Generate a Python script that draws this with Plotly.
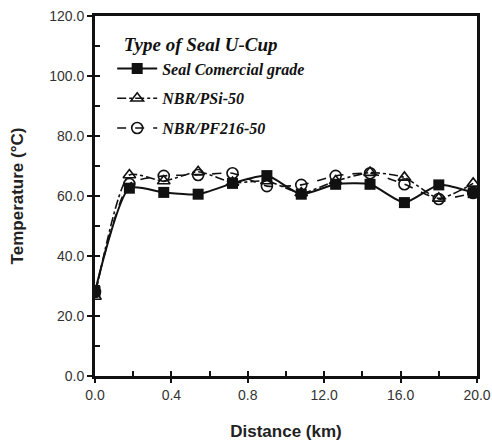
import plotly.graph_objects as go

# Distance along the test run (km)
distance_km = [0.0, 1.8, 3.6, 5.4, 7.2, 9.0, 10.8, 12.6, 14.4, 16.2, 18.0, 19.8]

# Seal temperature (°C) for each U-cup type
temp_commercial = [28.1, 62.6, 61.2, 60.6, 64.2, 66.8, 60.6, 63.9, 63.9, 57.8, 63.7, 61.1]
temp_psi50 = [26.5, 67.0, 65.0, 68.1, 64.5, 65.0, 61.0, 65.0, 67.8, 66.2, 59.2, 64.2]
temp_pf216 = [28.0, 64.0, 66.7, 67.0, 67.6, 63.3, 63.7, 66.7, 67.6, 63.9, 59.0, 61.0]

series_names = ["Seal Comercial grade", "NBR/PSi-50", "NBR/PF216-50"]

x_tickvals = [0, 4, 8, 12, 16, 20]
x_ticktext = ["0.0", "0.4", "0.8", "12.0", "16.0", "20.0"]
y_tickvals = [0, 20, 40, 60, 80, 100, 120]
y_ticktext = ["0.0", "20.0", "40.0", "60.0", "80.0", "100.0", "120.0"]

INK = "#111111"
fig = go.Figure()

fig.add_trace(go.Scatter(
    x=distance_km, y=temp_commercial, name=series_names[0], legendgroup="a",
    mode="lines+markers", line=dict(color=INK, width=2, shape="spline", smoothing=0.6),
    marker=dict(symbol="square", size=11, color=INK),
))
fig.add_trace(go.Scatter(
    x=distance_km, y=temp_psi50, name=series_names[1], legendgroup="b",
    mode="lines+markers",
    line=dict(color=INK, width=1.6, shape="spline", smoothing=0.6, dash="dashdot"),
    marker=dict(symbol="triangle-up-open", size=11, color=INK, line=dict(width=1.6)),
))
fig.add_trace(go.Scatter(
    x=distance_km, y=temp_pf216, name=series_names[2], legendgroup="c",
    mode="lines+markers",
    line=dict(color=INK, width=1.6, shape="spline", smoothing=0.6, dash="dash"),
    marker=dict(symbol="circle-open", size=11, color=INK, line=dict(width=1.6)),
))
# empty trace on the overlay axes that carry the inward tick marks
fig.add_trace(go.Scatter(x=[], y=[], xaxis="x2", yaxis="y2", showlegend=False, hoverinfo="skip"))

sans = "Liberation Sans, Arial, sans-serif"
serif = "Liberation Serif, Times New Roman, serif"
axis_font = dict(family=sans, size=14, color="#333333")
title_font = dict(family=sans, size=17, color="#222222")

fig.update_layout(
    width=492, height=444,
    margin=dict(l=95, r=15, t=16, b=68),
    paper_bgcolor="white", plot_bgcolor="white",
    font=axis_font,
    legend=dict(
        x=0.045, y=0.97, xanchor="left", yanchor="top",
        bgcolor="rgba(0,0,0,0)",
        font=dict(family=serif, size=16, color=INK, weight="bold", style="italic"),
        title=dict(text="  Type of Seal U-Cup",
                   font=dict(family=serif, size=19, color=INK, weight="bold", style="italic")),
        tracegroupgap=6,
        itemwidth=40,
    ),
    xaxis=dict(
        range=[0, 20], tickmode="array", tickvals=x_tickvals, ticktext=x_ticktext,
        showgrid=False, zeroline=False, showline=True, linecolor=INK, linewidth=3,
        mirror=True, ticks="outside", ticklen=4, tickwidth=2, tickcolor=INK,
        tickfont=axis_font, automargin=False, ticklabeloverflow="allow",
        title=dict(text="<b>Distance (km)</b>", font=title_font, standoff=24),
    ),
    yaxis=dict(
        range=[0, 120], tickmode="array", tickvals=y_tickvals, ticktext=y_ticktext,
        showgrid=False, zeroline=False, showline=True, linecolor=INK, linewidth=3,
        mirror=True, ticks="outside", ticklen=5, tickwidth=2, tickcolor=INK,
        tickfont=axis_font, automargin=False, ticklabeloverflow="allow",
        title=dict(text="<b>Temperature (°C)</b>", font=title_font, standoff=22),
    ),
    xaxis2=dict(
        overlaying="x", matches="x", range=[0, 20], tickmode="linear", tick0=0, dtick=2,
        ticks="inside", ticklen=5, tickwidth=2, tickcolor=INK, showticklabels=False,
        showgrid=False, zeroline=False, showline=False, automargin=False,
    ),
    yaxis2=dict(
        overlaying="y", matches="y", range=[0, 120], tickmode="linear", tick0=0, dtick=10,
        ticks="inside", ticklen=5, tickwidth=2, tickcolor=INK, showticklabels=False,
        showgrid=False, zeroline=False, showline=False, automargin=False,
    ),
)

fig.write_html("out.html")
